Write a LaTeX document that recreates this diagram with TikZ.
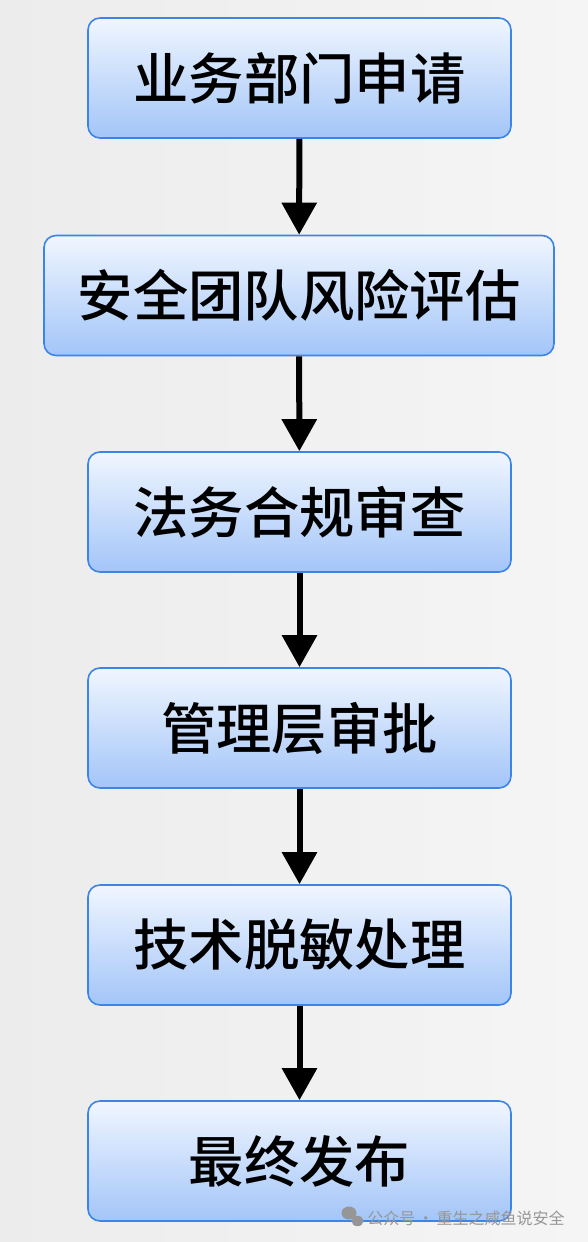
\documentclass[tikz,border=0pt]{standalone}
\usepackage{fontspec}
\newfontfamily\cjk{Noto Sans CJK SC}[BoldFont={Noto Sans CJK SC Medium}]
\usetikzlibrary{arrows.meta}
\definecolor{boxtop}{RGB}{240,246,255}
\definecolor{boxbot}{RGB}{163,197,248}
\definecolor{boxline}{RGB}{60,133,232}
\definecolor{markgray}{RGB}{150,150,150}
\tikzset{
  stepbox/.style={rounded corners=9pt, draw=boxline, line width=1.2pt,
    top color=boxtop, bottom color=boxbot, minimum width=317.25pt,
    minimum height=90pt, inner sep=0pt, font=\cjk\bfseries\fontsize{41.5}{48}\selectfont},
  widebox/.style={stepbox, minimum width=382.5pt},
  flow/.style={line width=4.5pt, -{Triangle[width=25.5pt,length=24pt]}},
}
\begin{document}
\begin{tikzpicture}[x=0.75pt,y=0.75pt,yscale=-1,xscale=1]
% background
\shade[left color={rgb,255:red,236;green,236;blue,236}, right color={rgb,255:red,245;green,245;blue,245}] (0,0) rectangle (588,1242);
\useasboundingbox (0,0) rectangle (588,1242);

% steps
\node[stepbox] (apply) at (299.5,78) {业务部门申请};
\node[widebox] (risk) at (299,295.5) {安全团队风险评估};
\node[stepbox] (legal) at (299.5,512) {法务合规审查};
\node[stepbox] (mgmt) at (299.5,728) {管理层审批};
\node[stepbox] (mask) at (299.5,945) {技术脱敏处理};
\node[stepbox] (release) at (299.5,1161) {最终发布};

% arrows
\draw[flow] (apply) -- (risk);
\draw[flow] (risk) -- (legal);
\draw[flow] (legal) -- (mgmt);
\draw[flow] (mgmt) -- (mask);
\draw[flow] (mask) -- (release);

% watermark
\fill[markgray] (349,1213) ellipse (7.5 and 6.5);
\fill[markgray] (357.5,1221) ellipse (6 and 5.2);
\node[anchor=west, inner sep=0pt, text=markgray, font=\cjk\fontsize{12}{14}\selectfont] (mark) at (367,1218) {公众号\,·\,重生之咸鱼说安全};

\end{tikzpicture}
\end{document}
